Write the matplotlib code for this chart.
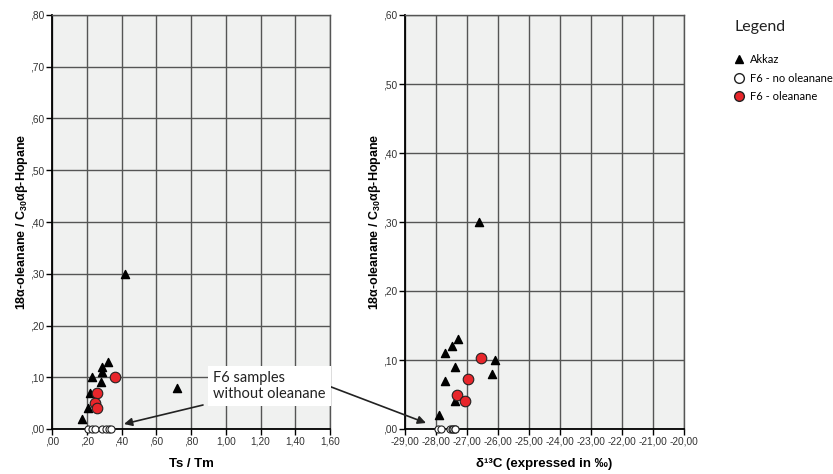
import numpy as np
import matplotlib.pyplot as plt
from matplotlib.lines import Line2D
from matplotlib.patches import FancyArrowPatch

# --- data ---
# Ts/Tm vs oleanane index
akkaz_tstm = [0.17, 0.21, 0.22, 0.23, 0.28, 0.29, 0.29, 0.32, 0.42, 0.72]
akkaz_ole = [0.02, 0.04, 0.07, 0.10, 0.09, 0.11, 0.12, 0.13, 0.30, 0.08]
f6_ole_tstm = [0.26, 0.36, 0.25, 0.26]
f6_ole_ole = [0.07, 0.10, 0.05, 0.04]
f6_none_tstm = [0.21, 0.23, 0.25, 0.29, 0.31, 0.33, 0.34]
f6_none_ole = [0.0, 0.0, 0.0, 0.0, 0.0, 0.0, 0.0]

# d13C vs oleanane index
akkaz_d13c = [-27.9, -27.4, -27.7, -27.7, -27.4, -27.5, -27.3, -26.1, -26.6, -26.2]
akkaz_ole2 = [0.02, 0.04, 0.07, 0.11, 0.09, 0.12, 0.13, 0.10, 0.30, 0.08]
f6_ole_d13c = [-26.55, -26.97, -27.32, -27.05]
f6_ole_ole2 = [0.103, 0.072, 0.05, 0.04]
f6_none_d13c = [-27.95, -27.85, -27.55, -27.5, -27.45, -27.4, -27.38]
f6_none_ole2 = [0.0, 0.0, 0.0, 0.0, 0.0, 0.0, 0.0]

left_xticks = np.arange(0, 1.61, 0.2)
left_yticks = np.arange(0, 0.81, 0.1)
right_xticks = np.arange(-29, -19.9, 1.0)
right_yticks = np.arange(0, 0.61, 0.1)

legend_labels = ['Akkaz', 'F6 - no oleanane', 'F6 - oleanane']

RED = '#e8262b'
GRID = '#555555'
MYRIAD = ['Lato', 'DejaVu Sans']
plt.rcParams['font.family'] = ['Liberation Sans', 'DejaVu Sans']
plt.rcParams['mathtext.fontset'] = 'custom'
plt.rcParams['mathtext.rm'] = 'Liberation Sans'
plt.rcParams['mathtext.bf'] = 'Liberation Sans:bold'


def comma_fmt(v):
    s = f"{v:.2f}".replace('.', ',')
    if s.startswith('0,'):
        s = s[1:]
    if s.startswith('-0,'):
        s = '-' + s[2:]
    return s


def style_axes(ax, xticks, yticks):
    ax.set_facecolor('#f0f1f0')
    ax.set_xlim(xticks[0], xticks[-1])
    ax.set_ylim(yticks[0], yticks[-1])
    ax.set_xticks(xticks)
    ax.set_yticks(yticks)
    ax.set_xticklabels([comma_fmt(v) for v in xticks])
    ax.set_yticklabels([comma_fmt(v) for v in yticks])
    ax.tick_params(direction='out', length=4, width=1, labelsize=7.3,
                   colors='black', labelcolor='#333333', pad=1.5)
    ax.grid(True, color=GRID, linewidth=1.0)
    ax.set_axisbelow(True)
    for side in ('left', 'bottom'):
        ax.spines[side].set_color('black')
        ax.spines[side].set_linewidth(1.3)
    for side in ('top', 'right'):
        ax.spines[side].set_color(GRID)
        ax.spines[side].set_linewidth(1.0)


def draw_points(ax, ax_x, ax_y, red_x, red_y, open_x, open_y):
    ax.scatter(ax_x, ax_y, marker='^', s=34, color='black', zorder=3,
               clip_on=False)
    ax.scatter(open_x, open_y, marker='o', s=26, facecolor='white',
               edgecolor='#222222', linewidth=0.8, zorder=4, clip_on=False)
    ax.scatter(red_x, red_y, marker='o', s=58, facecolor=RED,
               edgecolor='#222222', linewidth=0.8, zorder=5, clip_on=False)


fig = plt.figure(figsize=(8.33, 4.74), dpi=100)
W, H = 833, 474

ax1 = fig.add_axes([52 / W, (H - 429) / H, 278 / W, 414 / H])
ax2 = fig.add_axes([405 / W, (H - 429) / H, 279 / W, 414 / H])

style_axes(ax1, left_xticks, left_yticks)
style_axes(ax2, right_xticks, right_yticks)
draw_points(ax1, akkaz_tstm, akkaz_ole, f6_ole_tstm, f6_ole_ole,
            f6_none_tstm, f6_none_ole)
draw_points(ax2, akkaz_d13c, akkaz_ole2, f6_ole_d13c, f6_ole_ole2,
            f6_none_d13c, f6_none_ole2)

ylab = r'18α-oleanane / C$_{\mathbf{30}}$αβ-Hopane'
for ax in (ax1, ax2):
    ax.set_ylabel(ylab, fontsize=9, fontweight='bold', labelpad=0)
ax1.set_xlabel('Ts / Tm', fontsize=9.5, fontweight='bold', labelpad=8)
ax2.set_xlabel('δ¹³C (expressed in ‰)', fontsize=9.5,
               fontweight='bold', labelpad=8)


# annotation box with two arrows
def fig_xy(x, y):
    return (x / W, (H - y) / H)


fig.text(213 / W, (H - 386) / H, 'F6 samples\nwithout oleanane',
         ha='left', va='center', fontsize=10.5, family=MYRIAD,
         color='#222222', linespacing=1.1,
         bbox=dict(boxstyle='square,pad=0.35', facecolor='white',
                   edgecolor='none'), zorder=10)
arrow_kw = dict(arrowstyle='-|>', color='#222222', lw=1.2,
                mutation_scale=12, shrinkA=0, shrinkB=0)
fig.add_artist(FancyArrowPatch(fig_xy(203, 405), fig_xy(124, 424),
                               transform=fig.transFigure, **arrow_kw))
fig.add_artist(FancyArrowPatch(fig_xy(326, 385), fig_xy(426, 423),
                               transform=fig.transFigure, **arrow_kw))

# legend
fig.text(735 / W, (H - 27) / H, 'Legend', ha='left', va='center',
         fontsize=11.5, family=MYRIAD, color='#222222')
handles = [
    Line2D([], [], marker='^', linestyle='none', color='black', markersize=6),
    Line2D([], [], marker='o', linestyle='none', markerfacecolor='white',
           markeredgecolor='#222222', markersize=7),
    Line2D([], [], marker='o', linestyle='none', markerfacecolor=RED,
           markeredgecolor='#222222', markersize=7),
]
fig.legend(handles, legend_labels,
           loc='upper left', bbox_to_anchor=(726 / W, (H - 46) / H),
           frameon=False, borderpad=0.2,
           handlelength=1.0, handletextpad=0.5, labelspacing=0.7,
           prop={'family': MYRIAD, 'size': 8})

fig.savefig('out.png', dpi=100)
